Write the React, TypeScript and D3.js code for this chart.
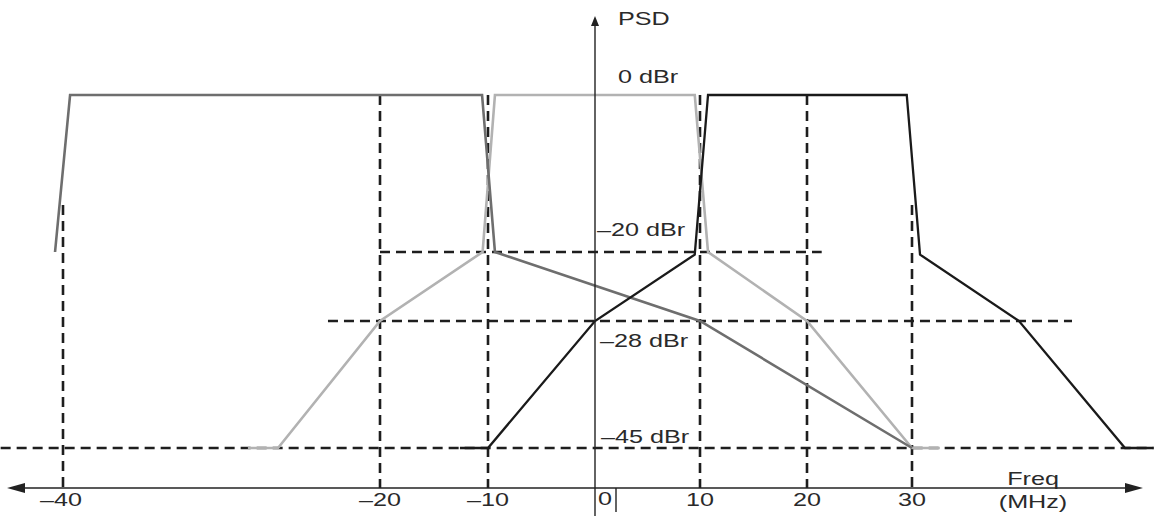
import * as d3 from "d3";

const W = 1154;
const H = 516;

// frequency (MHz) -> dBr
const darkGray: [number, number][] = [
  [-40.37, -20], [-39.67, 0], [-10.55, 0], [-9.35, -20], [10, -28], [30, -45],
];
const lightGray: [number, number][] = [
  [-31.4, -45], [-30, -45], [-20, -28], [-10.5, -20], [-9.35, 0],
  [9.5, 0], [10.75, -20], [20, -28], [30, -45], [32.6, -45],
];
const blackMask: [number, number][] = [
  [-12.6, -45], [-10, -45], [0, -28], [9.5, -20.3], [10.75, 0],
  [29.5, 0], [30.75, -20.3], [40, -28], [50, -45], [52.7, -45],
];

// dashed guides
const vGuides = [
  { f: -40, top: -14 },
  { f: -20, top: 0 },
  { f: -10, top: 0 },
  { f: 10, top: 0 },
  { f: 20, top: 0 },
  { f: 30, top: -14 },
];
const hGuides = [
  { db: -20, from: -20, to: 21.4 },
  { db: -28, from: -25.1, to: 45 },
  { db: -45, from: -42.9, to: 52.7 },
];

const tickValues = [-40, -20, -10, 10, 20, 30];
const tickLabels = ["\u201340", "\u201320", "\u201310", "10", "20", "30"];
const levelLabels = [
  { db: -20, text: "\u201320 dBr", dx: 2, dy: -16 },
  { db: -28, text: "\u201328 dBr", dx: 5, dy: 26 },
  { db: -45, text: "\u201345 dBr", dx: 6, dy: -5 },
];

// the drawing is not to scale, so both scales are piecewise
const x = d3
  .scaleLinear()
  .domain([-40, -30, -20, -10, 0, 10, 20, 30, 40, 50])
  .range([63, 278, 380, 488, 595, 700, 807, 912, 1019, 1125]);
const y = d3
  .scaleLinear()
  .domain([0, -20, -28, -45, -50])
  .range([95, 252, 321, 448, 488]);

const line = d3
  .line<[number, number]>()
  .x((d) => x(d[0]))
  .y((d) => y(d[1]));

const FONT = "'Liberation Sans', Arial, Helvetica, sans-serif";
const SX = 1.4; // the source picture is stretched horizontally

function Label({ px, py, text, anchor = "start" }: { px: number; py: number; text: string; anchor?: string }) {
  return (
    <text
      transform={`translate(${px},${py}) scale(${SX},1)`}
      textAnchor={anchor}
      fontFamily={FONT}
      fontSize={18}
      fill="#2a2a2a"
    >
      {text}
    </text>
  );
}

export default function App() {
  const axisY = y(-50);
  const axisX = x(0);

  return (
    <svg
      width={W}
      height={H}
      style={{ position: "absolute", left: 0, top: 0, background: "#fff" }}
    >
      {/* dashed guides */}
      <g stroke="#1e1e1e" strokeWidth={2.6} strokeDasharray="10,6" fill="none">
        {vGuides.map((g, i) => (
          <line key={"v" + i} x1={x(g.f)} x2={x(g.f)} y1={y(g.top)} y2={axisY} />
        ))}
        {hGuides.map((g, i) => (
          <line key={"h" + i} x1={x(g.from)} x2={x(g.to)} y1={y(g.db)} y2={y(g.db)} />
        ))}
      </g>

      {/* masks */}
      <path d={line(lightGray) ?? ""} fill="none" stroke="#b2b2b2" strokeWidth={2.6} strokeLinejoin="miter" />
      <path d={line(darkGray) ?? ""} fill="none" stroke="#6e6e6e" strokeWidth={2.6} strokeLinejoin="miter" />
      <path d={line(blackMask) ?? ""} fill="none" stroke="#1a1a1a" strokeWidth={2.3} strokeLinejoin="miter" />

      {/* axes */}
      <g stroke="#222" strokeWidth={1.4}>
        <line x1={20} x2={1132} y1={axisY} y2={axisY} />
        <line x1={axisX} x2={axisX} y1={H} y2={24} />
        <line x1={x(2)} x2={x(2)} y1={axisY} y2={axisY + 24} />
      </g>
      <g fill="#222">
        <polygon points={`7,${axisY} 25,${axisY - 5} 25,${axisY + 5}`} />
        <polygon points={`1143,${axisY} 1125,${axisY - 5} 1125,${axisY + 5}`} />
        <polygon points={`${axisX},16 ${axisX - 4},26 ${axisX + 4},26`} />
      </g>

      {/* text */}
      <Label px={618} py={25} text="PSD" />
      <Label px={618} py={83} text="0 dBr" />
      {levelLabels.map((l) => (
        <Label key={l.text} px={axisX + l.dx} py={y(l.db) + l.dy} text={l.text} />
      ))}
      {tickValues.map((t, i) => (
        <Label key={t} px={x(t) - (t === -40 ? 2 : 0)} py={506} text={tickLabels[i]} anchor="middle" />
      ))}
      <Label px={axisX + 3} py={505} text="0" />
      <Label px={1033} py={485} text="Freq" anchor="middle" />
      <Label px={1033} py={508} text="(MHz)" anchor="middle" />
    </svg>
  );
}
